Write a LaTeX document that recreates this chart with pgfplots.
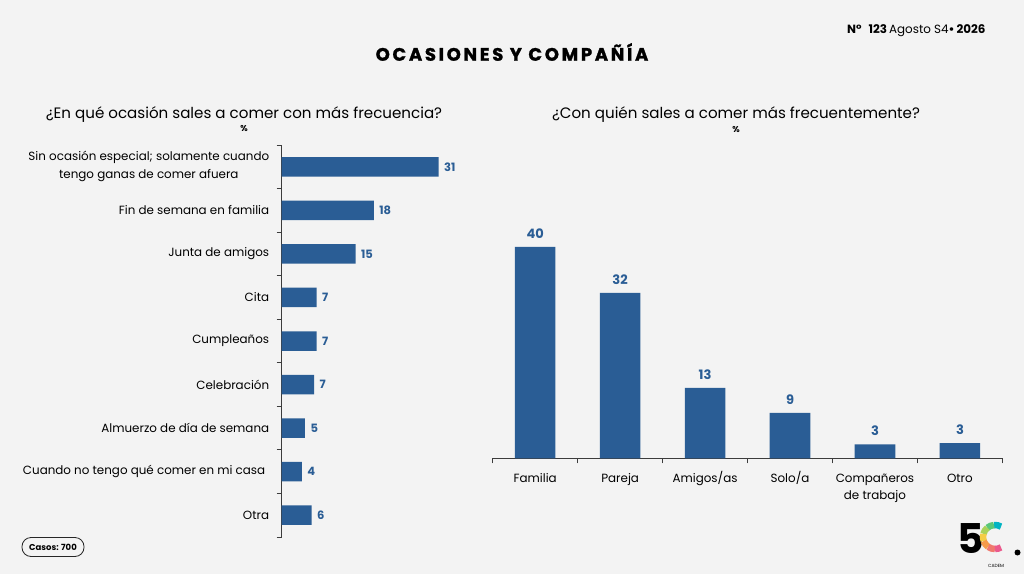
\documentclass[border=0pt]{standalone}
\usepackage{pgfplots}
\pgfplotsset{compat=1.18}
\usepackage{pgfplotstable}
\usepackage{fontspec}
\setmainfont{Poppins}
\definecolor{barblue}{RGB}{42,93,149}
\definecolor{bg}{RGB}{243,243,243}
\definecolor{axisgray}{RGB}{60,60,60}

\pgfplotstableread{
y val lab
0 31 31
1 18.2 18
2 14.6 15
3 6.9 7
4 6.9 7
5 6.4 7
6 4.6 5
7 4.0 4
8 5.9 6
}\leftdata

\pgfplotstableread{
x val lab
0 40 40
1 31.3 32
2 13.3 13
3 8.6 9
4 2.65 3
5 2.85 3
}\rightdata

\begin{document}
\begin{tikzpicture}
\fill[bg] (0pt,0pt) rectangle (1024pt,574pt);

% titles
\node at (512pt,522pt) {\fontsize{18}{20}\selectfont\bfseries\addfontfeature{LetterSpace=15,FakeBold=1.5}OCASIONES Y COMPAÑÍA};
\node at (244pt,459pt) {\fontsize{15.1}{16}\selectfont ¿En qué ocasión sales a comer con más frecuencia?};
\node at (244pt,445pt) {\fontsize{8.5}{9}\selectfont\bfseries \%};
\node at (736pt,459pt) {\fontsize{15.1}{16}\selectfont ¿Con quién sales a comer más frecuentemente?};
\node at (736pt,444pt) {\fontsize{8.5}{9}\selectfont\bfseries \%};
\node[anchor=east] at (989pt,543pt) {\fontsize{11.9}{12}\selectfont\textbf{N°}\hspace{7pt}\textbf{123}\,Agosto S4\textbf{•}\,\textbf{2026}};

% casos
\node[draw=black!85, rounded corners=9pt, line width=0.8pt, font=\bfseries\fontsize{8.5}{9}\selectfont, minimum width=62pt, minimum height=19pt, inner sep=2pt] at (53pt,27pt) {Casos: 700};

% logo
\node[anchor=base, inner sep=0pt] at (971pt,20.7pt) {\fontsize{41}{41}\selectfont\bfseries 5};
\begin{scope}[line width=6.5pt]
\draw[color={rgb,255:red,0;green,180;blue,195}] (995pt,37pt) ++(60:12pt) arc (60:95:12pt);
\draw[color={rgb,255:red,90;green,200;blue,120}] (995pt,37pt) ++(95:12pt) arc (95:130:12pt);
\draw[color={rgb,255:red,170;green,210;blue,90}] (995pt,37pt) ++(130:12pt) arc (130:165:12pt);
\draw[color={rgb,255:red,245;green,205;blue,70}] (995pt,37pt) ++(165:12pt) arc (165:200:12pt);
\draw[color={rgb,255:red,245;green,155;blue,75}] (995pt,37pt) ++(200:12pt) arc (200:235:12pt);
\draw[color={rgb,255:red,240;green,120;blue,110}] (995pt,37pt) ++(235:12pt) arc (235:270:12pt);
\draw[color={rgb,255:red,235;green,90;blue,140}] (995pt,37pt) ++(270:12pt) arc (270:300:12pt);
\end{scope}
\fill[black] (1017.5pt,21.5pt) circle (3pt);
\node[inner sep=0pt] at (996pt,8pt) {\fontsize{4.5}{5}\selectfont CADEM};

% left chart
\begin{axis}[
  at={(281.7pt,37pt)}, anchor=south west,
  scale only axis, width=202.4pt, height=392pt,
  xmin=0, xmax=40, ymin=-0.5, ymax=8.5, y dir=reverse,
  xbar, bar width=19.5pt, bar shift=0pt,
  axis y line*=left, axis x line=none,
  y axis line style={draw=axisgray, line width=0.9pt},
  ytick={0,...,8},
  yticklabels={{Sin ocasión especial; solamente cuando\\tengo ganas de comer afuera},
    Fin de semana en familia, Junta de amigos, Cita, Cumpleaños, Celebración,
    Almuerzo de día de semana, {Cuando no tengo qué comer en mi casa\,\,}, Otra},
  major tick length=0pt,
  minor ytick={-0.5,0.5,...,8.5}, minor tick length=5pt, tick align=outside,
  minor tick style={draw=axisgray, line width=0.9pt},
  yticklabel style={font=\fontsize{11.9}{18}\selectfont, align=center, xshift=-9pt},
  xtick=\empty,
  nodes near coords, point meta=explicit symbolic,
  nodes near coords style={font=\bfseries\fontsize{11.5}{12}\selectfont, text=barblue, anchor=west, xshift=2pt},
  clip=false,
]
\addplot[fill=barblue, draw=none] table[x=val, y=y, meta=lab]{\leftdata};
\end{axis}

% right chart
\begin{axis}[
  at={(492.7pt,115.7pt)}, anchor=south west,
  scale only axis, width=509.7pt, height=240pt,
  xmin=-0.5, xmax=5.5, ymin=0, ymax=45.4,
  ybar, bar width=40.6pt, bar shift=0pt,
  axis x line*=bottom, axis y line=none,
  x axis line style={draw=axisgray, line width=0.9pt},
  xtick={0,...,5},
  xticklabels={Familia, Pareja, Amigos/as, Solo/a, {Compañeros\\de trabajo}, Otro},
  typeset ticklabels with strut,
  major tick length=0pt,
  minor xtick={-0.5,0.5,...,5.5}, minor tick length=5pt, tick align=outside,
  minor tick style={draw=axisgray, line width=0.9pt},
  xticklabel style={font=\fontsize{11.9}{17}\selectfont, align=center, yshift=-9pt},
  ytick=\empty,
  nodes near coords, point meta=explicit symbolic,
  nodes near coords style={font=\bfseries\fontsize{13}{14}\selectfont, text=barblue, anchor=south, yshift=5pt},
  clip=false,
]
\addplot[fill=barblue, draw=none] table[x=x, y=val, meta=lab]{\rightdata};
\end{axis}
\end{tikzpicture}
\end{document}
